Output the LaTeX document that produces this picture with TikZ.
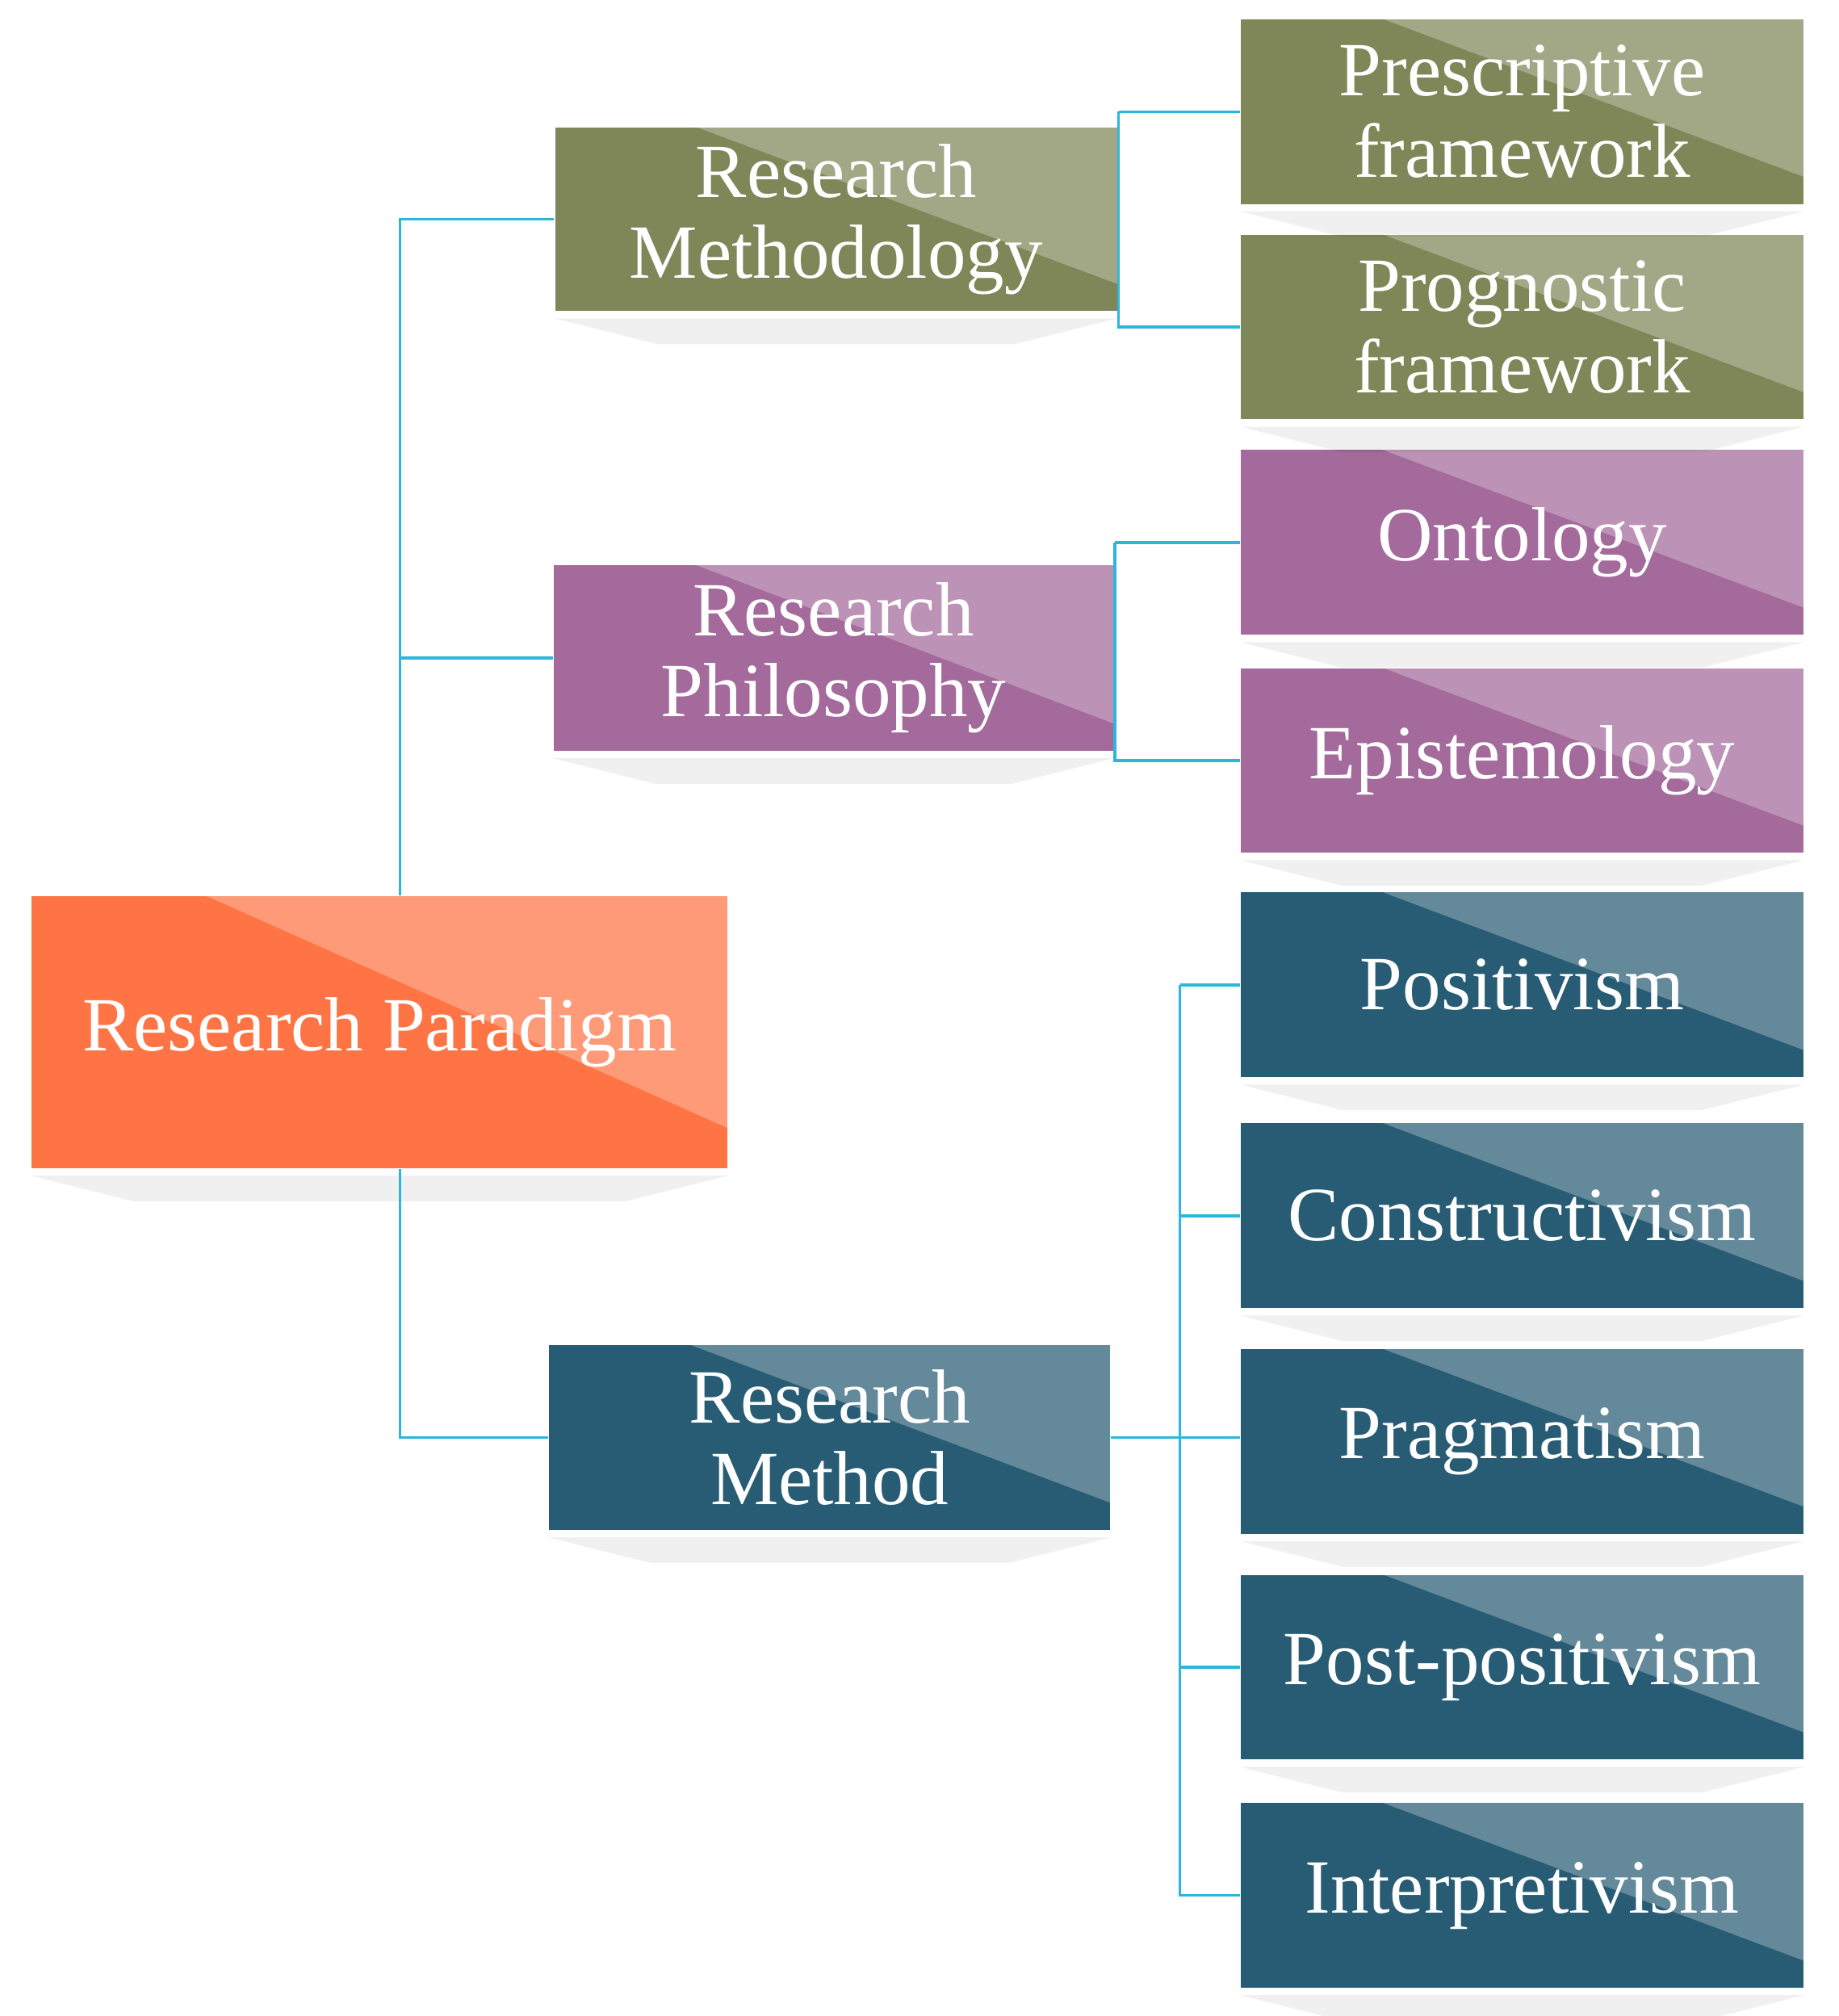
\documentclass[tikz,border=0pt]{standalone}
\usepackage{fontspec}
\setmainfont{Liberation Serif}
\definecolor{olive}{HTML}{7F8758}
\definecolor{purp}{HTML}{A36A9B}
\definecolor{teal}{HTML}{285C74}
\definecolor{orng}{HTML}{FF7444}
\definecolor{conn}{HTML}{2CB7DA}
\begin{document}
\begin{tikzpicture}[x=0.01cm,y=-0.01cm,
  box/.style={fill=#1,draw=none,text=white,font=\fontsize{17}{18}\selectfont,align=center,inner sep=0pt},
  rbox/.style={box=#1,minimum width=4.38cm,minimum height=1.44cm},
  link/.style={draw=conn,line width=0.6pt}]
\useasboundingbox (0,0) rectangle (1434,1572);
\newcommand{\gloss}[1]{%
  \fill[white,opacity=0.28] ($(#1.north west)!0.25!(#1.north east)$) -- (#1.north east) -- ($(#1.north east)!0.85!(#1.south east)$) -- cycle;
  \fill[black,opacity=0.06] ([yshift=-0.05cm]#1.south west) -- ([yshift=-0.05cm]#1.south east) -- ([yshift=-0.25cm,xshift=-0.8cm]#1.south east) -- ([yshift=-0.25cm,xshift=0.8cm]#1.south west) -- cycle;}
\usetikzlibrary{calc}
\node[rbox=olive] (presc) at (1187,87) {Prescriptive\\framework};
\node[rbox=olive] (progn) at (1187,255) {Prognostic\\framework};
\node[rbox=purp] (onto) at (1187,423) {Ontology};
\node[rbox=purp] (epis) at (1187,593) {Epistemology};
\node[rbox=teal] (posi) at (1187,768) {Positivism};
\node[rbox=teal] (cons) at (1187,948) {Constructivism};
\node[rbox=teal] (prag) at (1187,1124) {Pragmatism};
\node[rbox=teal] (post) at (1187,1300) {Post-positivism};
\node[rbox=teal] (intp) at (1187,1478) {Interpretivism};
\node[box=olive,minimum width=4.38cm,minimum height=1.43cm] (meth) at (652,171) {Research\\Methodology};
\node[box=purp,minimum width=4.36cm,minimum height=1.45cm] (phil) at (650,513) {Research\\Philosophy};
\node[box=teal,minimum width=4.37cm,minimum height=1.44cm] (rmet) at (647,1121) {Research\\Method};
\node[box=orng,minimum width=5.42cm,minimum height=2.12cm] (para) at (296,805) {Research Paradigm};
\foreach \n in {presc,progn,onto,epis,posi,cons,prag,post,intp,meth,phil,rmet,para}{\gloss{\n}}
% left trunk
\draw[link] ([xshift=0.16cm]para.north) |- (meth.west);
\draw[link] ([xshift=0.16cm]para.north) |- (phil.west);
\draw[link] ([xshift=0.16cm]para.south) |- (rmet.west);
% methodology
\draw[link] (meth.east) -- ++(0.5,0) coordinate (m1);
\draw[link] (m1 |- presc.west) -- (presc.west);
\draw[link] (m1 |- presc.west) |- (progn.west);
% philosophy
\draw[link] (phil.east) -- ++(0.53,0) coordinate (p1);
\draw[link] (p1 |- onto.west) -- (onto.west);
\draw[link] (p1 |- onto.west) |- (epis.west);
% method
\draw[link] (rmet.east) -- (rmet.east -| prag.west);
\draw[link] ([xshift=-0.47cm]posi.west) -- (posi.west);
\draw[link] ([xshift=-0.47cm]posi.west) |- (intp.west);
\draw[link] ([xshift=-0.47cm]cons.west) -- (cons.west);
\draw[link] ([xshift=-0.47cm]post.west) -- (post.west);
\end{tikzpicture}
\end{document}
